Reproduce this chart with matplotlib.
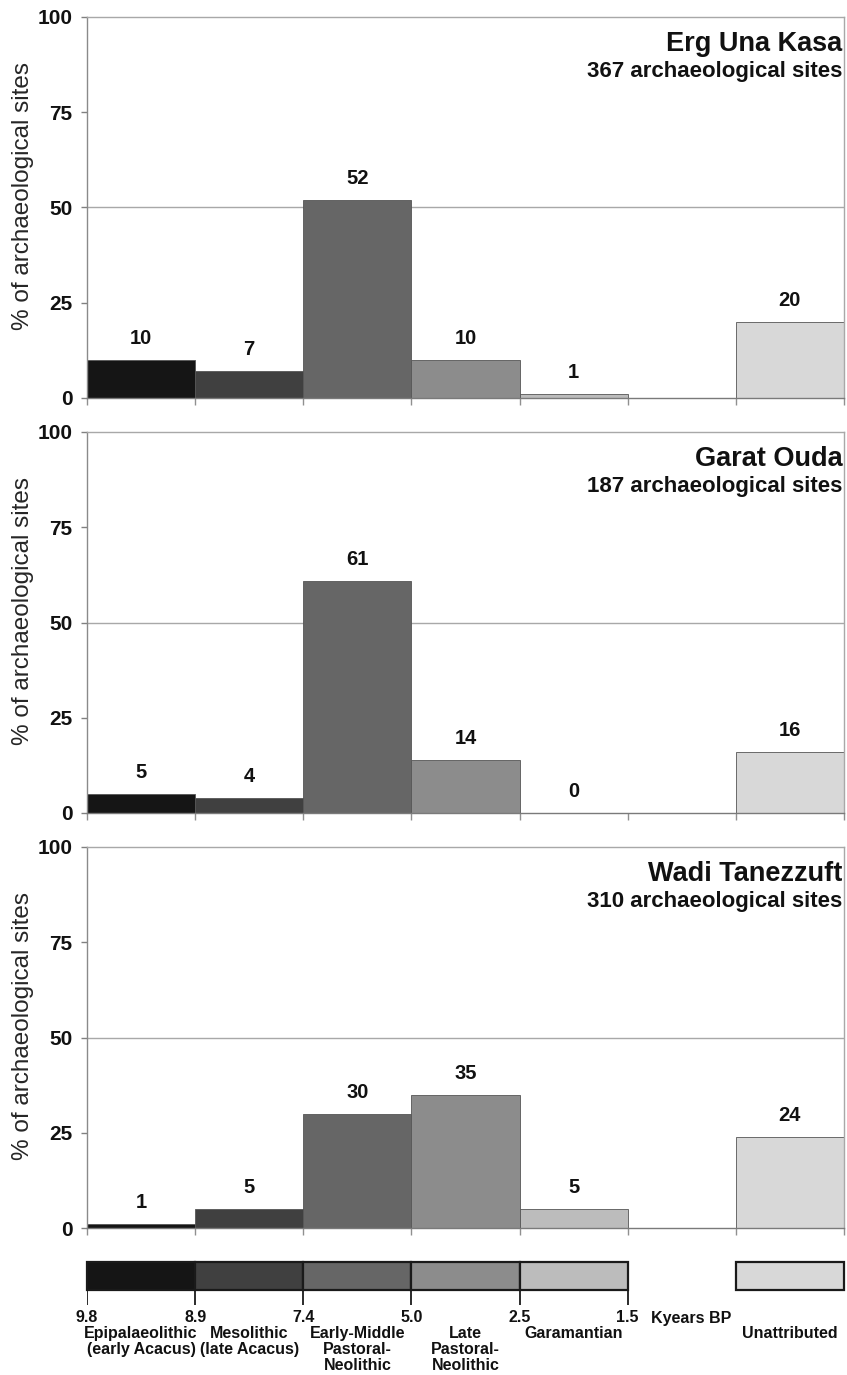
import matplotlib
matplotlib.use('Agg')
import matplotlib.pyplot as plt
import numpy as np

plt.rcParams['font.family'] = ['Liberation Sans', 'DejaVu Sans']

# periods along the x axis; the empty slot is the gap before "Unattributed"
periods = ['Epipalaeolithic\n(early Acacus)', 'Mesolithic\n(late Acacus)',
           'Early-Middle\nPastoral-\nNeolithic', 'Late\nPastoral-\nNeolithic',
           'Garamantian', '', 'Unattributed']
period_colours = ['#151515', '#404040', '#666666', '#8c8c8c', '#bcbcbc', None, '#d8d8d8']
boundary_ages = ['9.8', '8.9', '7.4', '5.0', '2.5', '1.5']

site_names = ['Erg Una Kasa', 'Garat Ouda', 'Wadi Tanezzuft']
site_counts = [367, 187, 310]
erg_una_kasa = [10, 7, 52, 10, 1, None, 20]
garat_ouda = [5, 4, 61, 14, 0, None, 16]
wadi_tanezzuft = [1, 5, 30, 35, 5, None, 24]
site_values = [erg_una_kasa, garat_ouda, wadi_tanezzuft]

W, H = 847, 1375
fig = plt.figure(figsize=(W / 100, H / 100), dpi=100)


def px_axes(x0, y0, x1, y1):
    # axes placed by pixel box (top-left origin)
    return fig.add_axes([x0 / W, 1 - y1 / H, (x1 - x0) / W, (y1 - y0) / H])


x = np.arange(len(periods))
panel_tops = [17, 432, 847]

for top, name, count, vals in zip(panel_tops, site_names, site_counts, site_values):
    ax = px_axes(87, top, 844, top + 381)
    keep = [i for i, v in enumerate(vals) if v is not None]
    ax.bar(x[keep], [vals[i] for i in keep], width=1, align='edge',
           color=[period_colours[i] for i in keep], edgecolor='#555555',
           linewidth=0.6, zorder=2)
    for i in keep:
        ax.annotate(f'{vals[i]}', (x[i] + 0.5, vals[i]), xytext=(0, 15.5),
                    textcoords='offset points', ha='center', va='center',
                    fontsize=14.5, fontweight='bold', color='#111111')

    ax.set_xlim(0, len(periods))
    ax.set_ylim(0, 100)
    ax.axhline(50, color='#a8a8a8', linewidth=1, zorder=0.5)
    ax.set_yticks([0, 25, 50, 75, 100])
    ax.set_xticks(np.arange(len(periods) + 1))
    ax.tick_params(axis='y', length=4.5, width=1, color='#808080', pad=6,
                   labelsize=15)
    ax.tick_params(axis='x', length=5, width=1, color='#909090', labelbottom=False)
    for lab in ax.get_yticklabels():
        lab.set_fontweight('bold')
        lab.set_color('#111111')
    for side, col in [('left', '#8a8a8a'), ('bottom', '#7a7a7a'),
                      ('right', '#a8a8a8'), ('top', '#a8a8a8')]:
        ax.spines[side].set_color(col)
        ax.spines[side].set_linewidth(1)

    ax.text(-0.0845, 0.53, '% of archaeological sites', transform=ax.transAxes,
            rotation=90, ha='center', va='center', fontsize=17.5, color='#262626')
    ax.text(0.998, 0.911, name, transform=ax.transAxes, ha='right',
            va='baseline', fontsize=19.5, fontweight='bold', color='#111111')
    ax.text(0.998, 0.8425, f'{count} archaeological sites', transform=ax.transAxes,
            ha='right', va='baseline', fontsize=16, fontweight='bold',
            color='#111111')

# period key under the panels, y in pixels below its top edge
lg = px_axes(87, 1240, 844, 1375)
lg.set_xlim(0, len(periods))
lg.set_ylim(135, 0)
lg.axis('off')
has_box = [i for i, c in enumerate(period_colours) if c is not None]
lg.bar(x[has_box], 28, bottom=22, width=1, align='edge',
       color=[period_colours[i] for i in has_box], edgecolor='#1a1a1a',
       linewidth=1.6, clip_on=False)
lg.vlines(np.arange(len(boundary_ages)), 50, 65, color='#1a1a1a', linewidth=1.3)
for i, age in enumerate(boundary_ages):
    lg.text(i, 78, age, ha='center', va='center', fontsize=11.5,
            fontweight='bold', color='#111111')
lg.text(5.215, 78, 'Kyears BP', ha='left', va='center', fontsize=11.5,
        fontweight='bold', color='#111111')
for i, lab in enumerate(periods):
    if lab:
        lg.text(x[i] + 0.5, 86, lab, ha='center', va='top', fontsize=11.5,
                fontweight='bold', linespacing=1.1, color='#111111', clip_on=False)

fig.savefig('out.png', dpi=100)
